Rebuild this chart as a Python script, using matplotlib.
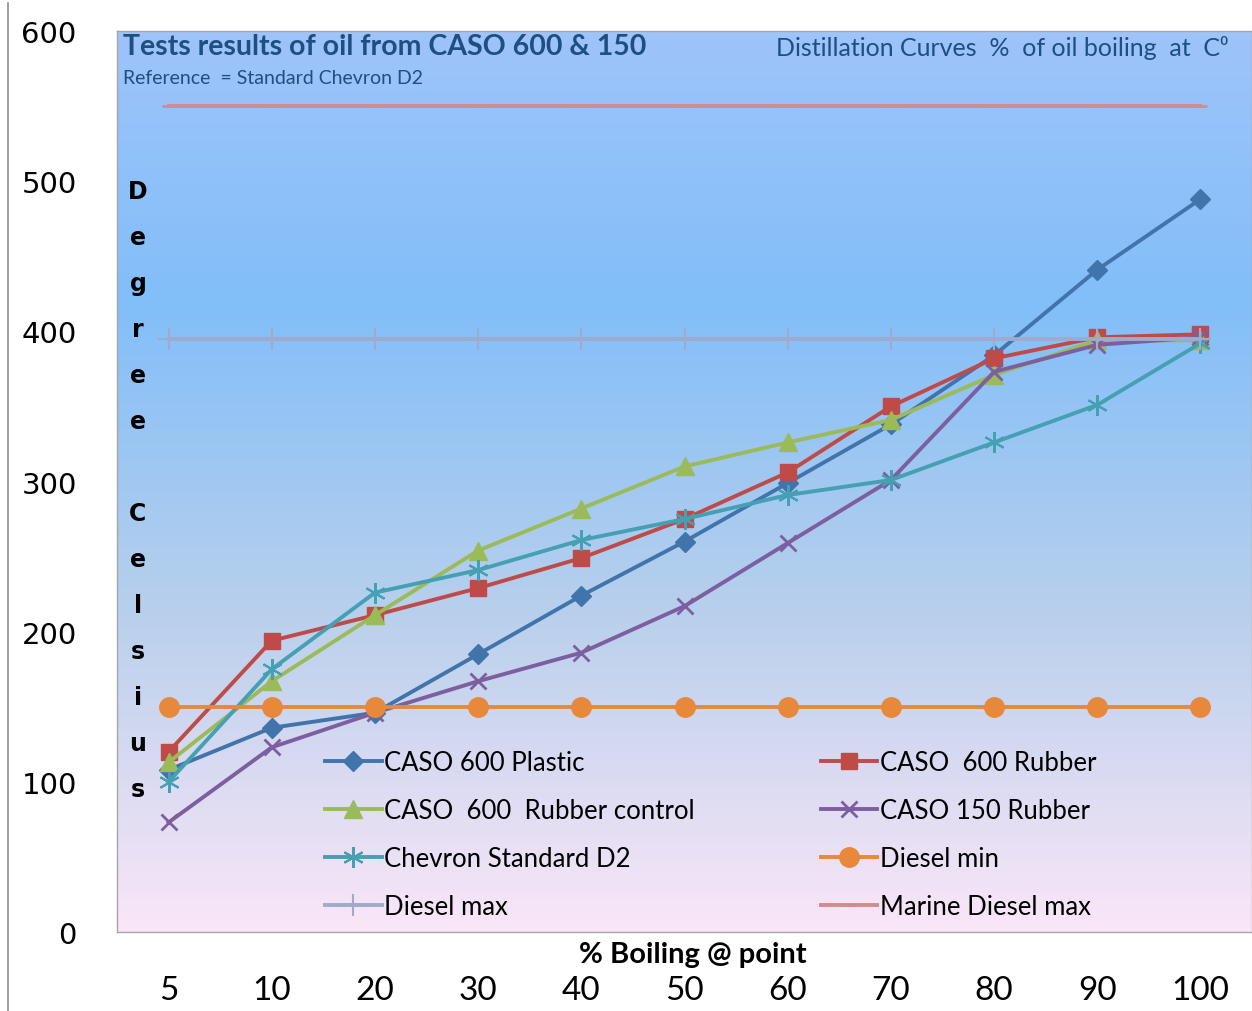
import numpy as np
import matplotlib
matplotlib.use("Agg")
import matplotlib.pyplot as plt
from matplotlib.colors import LinearSegmentedColormap
from matplotlib.lines import Line2D

# data (degrees C at % boiled)
boiling_pct = ["5", "10", "20", "30", "40", "50", "60", "70", "80", "90", "100"]
caso600_plastic = [108, 136, 146, 185, 224, 260, 299, 338, 384, 441, 488]
caso600_rubber = [120, 194, 211, 229, 249, 275, 306, 350, 382, 396, 398]
caso600_rubber_control = [113, 167, 211, 254, 282, 310, 326, 341, 371, 394, 394]
caso150_rubber = [73, 123, 146, 167, 186, 217, 259, 301, 373, 391, 396]
chevron_d2 = [100, 175, 226, 241, 261, 275, 291, 301, 326, 351, 392]
diesel_min = [150] * 11
diesel_max = [395] * 11
marine_diesel_max = [550] * 11

W, H = 1252, 1012
fig = plt.figure(figsize=(W / 100, H / 100), dpi=100)
fig.patch.set_facecolor("white")
ax = fig.add_axes([117 / W, 1 - 933 / H, 1 - 117 / W, (933 - 32) / H])

# plot area gradient (blue at top fading to pink at the bottom)
cmap = LinearSegmentedColormap.from_list(
    "bg",
    [(0.0, "#faE6f8"), (0.35, "#b9d0ec"), (0.7, "#82bef9"), (1.0, "#9ec4fa")],
)
grad = np.linspace(0, 1, 256).reshape(-1, 1)
ax.imshow(grad, cmap=cmap, origin="lower", extent=[0, 1, 0, 1],
          transform=ax.transAxes, aspect="auto", zorder=0)

x = np.arange(len(boiling_pct))
series = [
    ("CASO 600 Plastic", caso600_plastic, "#4174ab", "D", 10, 1),
    ("CASO  600 Rubber", caso600_rubber, "#be4b48", "s", 12, 1),
    ("CASO  600  Rubber control", caso600_rubber_control, "#9bbb59", "^", 13, 1),
    ("CASO 150 Rubber", caso150_rubber, "#7d5f9f", "x", 12, 2),
    ("Chevron Standard D2", chevron_d2, "#46a0b4", (6, 2, 0), 15, 1.5),
    ("Diesel min", diesel_min, "#e8883a", "o", 14, 1),
    ("Diesel max", diesel_max, "#a0aacb", "+", 16, 1.5),
    ("Marine Diesel max", marine_diesel_max, "#d38c8c", "_", 10, 2),
]
handles = {}
for i, (name, vals, col, mk, ms, mew) in enumerate(series):
    (ln,) = ax.plot(x, vals, color=col, lw=2.8, marker=mk, markersize=ms,
                    markeredgewidth=mew, markeredgecolor=col,
                    markerfacecolor=col, label=name, zorder=2 + i)
    handles[name] = ln

ax.set_xlim(-0.5, len(boiling_pct) - 0.5)
ax.set_ylim(0, 600)
ax.set_yticks([0, 100, 200, 300, 400, 500, 600])
ax.set_xticks(x)
ax.set_xticklabels(boiling_pct)
ax.tick_params(axis="y", length=0, pad=29, labelsize=21)
ax.tick_params(axis="x", length=0, pad=31, labelsize=24)
for lab in ax.get_xticklabels():
    lab.set_fontfamily("Lato")
for s in ax.spines.values():
    s.set_color("#a6a6a6")
    s.set_linewidth(1)

# legend: two columns, row-wise order like the original
order = ["CASO 600 Plastic", "CASO  600  Rubber control", "Chevron Standard D2", "Diesel max",
         "CASO  600 Rubber", "CASO 150 Rubber", "Diesel min", "Marine Diesel max"]
leg = ax.legend([handles[n] for n in order], order, ncol=2, frameon=False,
                loc="upper left", bbox_to_anchor=(325 / W, 1 - 751 / H),
                bbox_transform=fig.transFigure, borderpad=0, borderaxespad=0,
                handlelength=2.2, handletextpad=0.1, columnspacing=4.9,
                labelspacing=0.9, prop={"family": "Lato", "size": 18.5})
leg.set_zorder(20)

# titles inside the plot area
dark_blue = "#1f4e80"
fig.text(123 / W, 1 - 47 / H, "Tests results of oil from CASO 600 & 150",
         fontsize=20.5, fontweight="bold", family="Lato", color=dark_blue,
         va="center", ha="left")
fig.text(123 / W, 1 - 78 / H, "Reference  = Standard Chevron D2",
         fontsize=14, family="Lato", color=dark_blue, va="center", ha="left")
fig.text(1228 / W, 1 - 48 / H, "Distillation Curves  %  of oil boiling  at  C\u2070",
         fontsize=18, family="Lato", color=dark_blue, va="center", ha="right")

# vertical y label, one letter per line
letters = ["D", "e", "g", "r", "e", "e", "", "C", "e", "l", "s", "i", "u", "s"]
for k, ch in enumerate(letters):
    fig.text(138 / W, 1 - (192 + 46 * k) / H, ch, fontsize=17,
             fontweight="bold", ha="center", va="center", zorder=30)

fig.text(693 / W, 1 - 955 / H, "% Boiling @ point", fontsize=21,
         fontweight="bold", family="Lato", ha="center", va="center")

# thin border on the left of the chart area
fig.add_artist(Line2D([8 / W, 8 / W], [0, 1 - 4 / H], color="#8c8c8c", lw=1.2,
                      transform=fig.transFigure))

fig.savefig("out.png", dpi=100)
